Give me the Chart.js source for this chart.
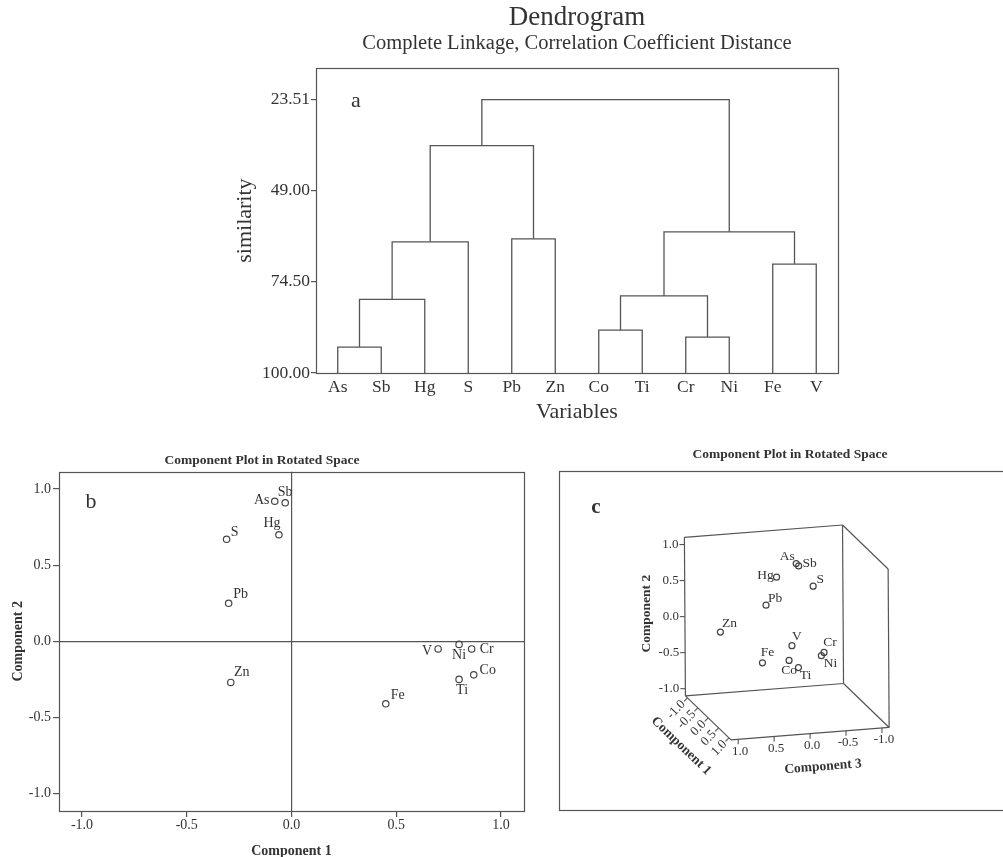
<!DOCTYPE html>
<html>
<head>
<meta charset="utf-8">
<title>Dendrogram and component plots</title>
<script src="https://cdn.jsdelivr.net/npm/chart.js@4.4.0/dist/chart.umd.min.js"></script>
<style>
    html, body { margin: 0; padding: 0; background: #fff; overflow: hidden; }
    canvas { position: absolute; }
    #dendroChart { left: 197px; top: 0; }
    #rotatedChart { left: 0; top: 445px; }
    #rotated3dChart { left: 555px; top: 440px; }
</style>
</head>
<body>
<canvas id="dendroChart" width="760" height="425"></canvas>
<canvas id="rotatedChart" width="540" height="415"></canvas>
<canvas id="rotated3dChart" width="470" height="417"></canvas>
<script>
// dendrogram (a): leaves, merges (ids 12+ are clusters in merge order), heights
var leafLabels = ['As', 'Sb', 'Hg', 'S', 'Pb', 'Zn', 'Co', 'Ti', 'Cr', 'Ni', 'Fe', 'V'];
var mergeLeft = [0, 12, 13, 4, 14, 6, 8, 17, 10, 19, 16];
var mergeRight = [1, 2, 3, 5, 15, 7, 9, 18, 11, 20, 21];
var mergeHeight = [92.75, 79.37, 63.29, 62.45, 36.34, 88.01, 89.96, 78.44, 69.51, 60.50, 23.51];
var simTicks = [23.51, 49.00, 74.50, 100.00];

// component plot (b), two components
var elements = ['As', 'Sb', 'Hg', 'S', 'Pb', 'Zn', 'V', 'Ni', 'Cr', 'Co', 'Ti', 'Fe'];
var comp1 = [-0.08, -0.03, -0.06, -0.31, -0.30, -0.29, 0.70, 0.80, 0.86, 0.87, 0.80, 0.45];
var comp2 = [0.92, 0.91, 0.70, 0.67, 0.25, -0.27, -0.05, -0.02, -0.05, -0.22, -0.25, -0.41];
var axisTicks = [-1.0, -0.5, 0.0, 0.5, 1.0];

// component plot (c), three components
var c3Comp1 = [-0.08, -0.03, -0.06, -0.31, -0.30, -0.29, 0.70, 0.80, 0.86, 0.87, 0.80, 0.45];
var c3Comp2 = [0.92, 0.90, 0.76, 0.52, 0.31, -0.01, 0.02, -0.12, -0.06, -0.13, -0.26, -0.26];
var c3Comp3 = [-0.16, -0.18, 0.12, -0.46, 0.20, 0.84, 0.13, -0.25, -0.27, 0.22, 0.07, 0.47];

var SERIF = '"Liberation Serif", "Times New Roman", serif';
var TXT = '#333';
var LINE = '#555';

// label offsets (px) around the points
var labelOffB = {
    As: [-13, -1], Sb: [0, -10], Hg: [-7, -11], S: [8, -7], Pb: [12, -9], Zn: [11, -10],
    V: [-11, 2], Ni: [0, 11], Cr: [15, 0], Co: [14, -5], Ti: [3, 11], Fe: [12, -8]
};
var labelOffC = {
    As: [-9, -7], Sb: [11, -2], Hg: [-11, -2], S: [7, -7], Pb: [9, -7], Zn: [9, -9],
    V: [5, -9], Ni: [9, 8], Cr: [6, -10], Co: [0, 10], Ti: [7, 8], Fe: [5, -10]
};

function serif(size, weight, lh) {
    return { family: SERIF, size: size, weight: weight || 'normal', lineHeight: lh || 1.2 };
}

//frame + panel letter
var framePlugin = {
    id: 'frame',
    afterDraw: function (chart, args, opts) {
        var a = chart.chartArea, ctx = chart.ctx;
        ctx.save();
        ctx.strokeStyle = LINE;
        ctx.lineWidth = 1.2;
        ctx.strokeRect(Math.round(a.left) + 0.5, Math.round(a.top) + 0.5,
            Math.round(a.right - a.left), Math.round(a.bottom - a.top));
        if (opts.letter) {
            ctx.fillStyle = TXT;
            ctx.font = opts.letterFont;
            ctx.textAlign = 'center';
            ctx.textBaseline = 'middle';
            ctx.fillText(opts.letter, a.left + opts.dx, a.top + opts.dy);
        }
        ctx.restore();
    }
};

// labels next to points
var pointLabelPlugin = {
    id: 'ptlabels',
    afterDatasetsDraw: function (chart, args, opts) {
        var meta = chart.getDatasetMeta(opts.datasetIndex);
        var ctx = chart.ctx;
        ctx.save();
        ctx.fillStyle = TXT;
        ctx.font = opts.font;
        ctx.textAlign = 'center';
        ctx.textBaseline = 'middle';
        meta.data.forEach(function (pt, i) {
            var name = opts.names[i];
            var off = opts.offsets[name];
            ctx.fillText(name, pt.x + off[0], pt.y + off[1]);
        });
        ctx.restore();
    }
};

//DENDROGRAM
function InitialLoad__forDendro() {
    var nodes = [];
    $each(leafLabels, function (i) { nodes.push({ x: i + 1, h: 100 }); });
    $each(mergeLeft, function (k) {
        var l = nodes[mergeLeft[k]], r = nodes[mergeRight[k]];
        nodes.push({ x: (l.x + r.x) / 2, h: mergeHeight[k] });
    });

    var dendroSets = [];
    $each(mergeLeft, function (k) {
        var l = nodes[mergeLeft[k]], r = nodes[mergeRight[k]], h = mergeHeight[k];
        dendroSets.push({
            data: [{ x: l.x, y: l.h }, { x: l.x, y: h }, { x: r.x, y: h }, { x: r.x, y: r.h }],
            showLine: true,
            borderColor: LINE,
            borderWidth: 1.3,
            pointRadius: 0,
            tension: 0,
            fill: false
        });
    });

    var ctx__dendro = document.getElementById('dendroChart');
    new Chart(ctx__dendro, {
        type: 'scatter',
        data: { datasets: dendroSets },
        plugins: [framePlugin],
        options: {
            responsive: false,
            animation: false,
            layout: { padding: { left: 0, right: 119, top: 0, bottom: 0 } },
            plugins: {
                legend: { display: false },
                tooltip: { enabled: false },
                //fullSize false -> centered over the plot box
                title: {
                    display: true, fullSize: false, text: 'Dendrogram', color: TXT,
                    font: serif(27, 'normal', 1.0), padding: { top: 4.5, bottom: 0 }
                },
                subtitle: {
                    display: true, fullSize: false, text: 'Complete Linkage, Correlation Coefficient Distance', color: TXT,
                    font: serif(20.5), padding: { top: 0.2, bottom: 11.9 }
                },
                frame: { letter: 'a', letterFont: '22px ' + SERIF, dx: 40, dy: 33 }
            },
            scales: {
                x: {
                    type: 'linear', min: 0.5, max: 12.5,
                    afterBuildTicks: function (s) {
                        s.ticks = leafLabels.map(function (l, i) { return { value: i + 1 }; });
                    },
                    ticks: {
                        callback: function (v) { return leafLabels[Math.round(v) - 1]; },
                        font: serif(17.5), color: TXT, padding: 3.5, maxRotation: 0, autoSkip: false
                    },
                    grid: { display: false, drawTicks: false },
                    border: { display: false },
                    title: {
                        display: true, text: 'Variables', color: TXT, font: serif(22),
                        padding: { top: 0, bottom: 0 }
                    },
                    afterFit: function (s) { s.height = 52; }
                },
                y: {
                    type: 'linear', min: 14.7, max: 100, reverse: true,
                    afterBuildTicks: function (s) {
                        s.ticks = simTicks.map(function (v) { return { value: v }; });
                    },
                    ticks: {
                        callback: function (v) { return v.toFixed(2); },
                        font: serif(17.5), color: TXT, padding: 1, autoSkip: false
                    },
                    grid: { drawOnChartArea: false, drawTicks: true, tickLength: 5, color: LINE, lineWidth: 1.2 },
                    border: { display: false },
                    title: {
                        display: true, text: 'similarity', color: TXT, font: serif(22),
                        padding: { top: 34.8, bottom: 0 }
                    },
                    afterFit: function (s) { s.width = 119; }
                }
            }
        }
    });
}

//ROTATED SPACE 2D
function InitialLoad__forRotated() {
    var pts = elements.map(function (e, i) { return { x: comp1[i], y: comp2[i] }; });
    var zeroLine = function (c) {
        return c.tick && c.tick.value === 0 ? LINE : 'rgba(0,0,0,0)';
    };
    var ctx__rot = document.getElementById('rotatedChart');
    new Chart(ctx__rot, {
        type: 'scatter',
        data: {
            datasets: [{
                data: pts,
                pointRadius: 3.2,
                pointBorderWidth: 1.2,
                pointBorderColor: '#444',
                pointBackgroundColor: 'rgba(0,0,0,0)'
            }]
        },
        plugins: [framePlugin, pointLabelPlugin],
        options: {
            responsive: false,
            animation: false,
            layout: { padding: { left: 0, right: 16, top: 0, bottom: 0 } },
            plugins: {
                legend: { display: false },
                tooltip: { enabled: false },
                title: {
                    display: true, text: 'Component Plot in Rotated Space', color: TXT,
                    font: serif(13.5, 'bold'), padding: { top: 7.6, bottom: 2.9 }
                },
                frame: { letter: 'b', letterFont: '22px ' + SERIF, dx: 32, dy: 31 },
                ptlabels: { datasetIndex: 0, names: elements, offsets: labelOffB, font: '14px ' + SERIF }
            },
            scales: {
                x: {
                    type: 'linear', min: -1.11, max: 1.11,
                    afterBuildTicks: function (s) {
                        s.ticks = axisTicks.map(function (v) { return { value: v }; });
                    },
                    ticks: {
                        callback: function (v) { return v.toFixed(1); },
                        font: serif(14), color: TXT, padding: 0, maxRotation: 0, autoSkip: false
                    },
                    grid: { color: zeroLine, tickColor: LINE, tickLength: 6, lineWidth: 1.2 },
                    border: { display: false },
                    title: {
                        display: true, text: 'Component 1', color: TXT, font: serif(14, 'bold'),
                        padding: { top: 0, bottom: 0 }
                    },
                    afterFit: function (s) { s.height = 49; }
                },
                y: {
                    type: 'linear', min: -1.114, max: 1.114,
                    afterBuildTicks: function (s) {
                        s.ticks = axisTicks.map(function (v) { return { value: v }; });
                    },
                    ticks: {
                        callback: function (v) { return v.toFixed(1); },
                        font: serif(14), color: TXT, padding: 2, autoSkip: false
                    },
                    grid: { color: zeroLine, tickColor: LINE, tickLength: 6, lineWidth: 1.2 },
                    border: { display: false },
                    title: {
                        display: true, text: 'Component 2', color: TXT, font: serif(14, 'bold'),
                        padding: { top: 9.9, bottom: 0 }
                    },
                    afterFit: function (s) { s.width = 59; }
                }
            }
        }
    });
}

//ROTATED SPACE 3D
var R = 1.1;
var e1 = [0.2884, -0.2789], e2 = [-0.0064, 1.0054], e3 = [-1.0, -0.0785];
function proj(a, b, c) {
    return { x: a * e1[0] + b * e2[0] + c * e3[0], y: a * e1[1] + b * e2[1] + c * e3[1] };
}

function InitialLoad__forRotated3d() {
    var edges = [
        [[-R, -R, R], [-R, R, R]], [[-R, R, R], [-R, R, -R]], [[-R, R, -R], [-R, -R, -R]], [[-R, -R, -R], [-R, -R, R]],
        [[-R, R, -R], [R, R, -R]], [[R, R, -R], [R, -R, -R]], [[-R, -R, -R], [R, -R, -R]],
        [[-R, -R, R], [R, -R, R]], [[R, -R, R], [R, -R, -R]]
    ];
    var sets = edges.map(function (ed) {
        return {
            data: [proj(ed[0][0], ed[0][1], ed[0][2]), proj(ed[1][0], ed[1][1], ed[1][2])],
            showLine: true, borderColor: LINE, borderWidth: 1.2, pointRadius: 0, tension: 0
        };
    });
    sets.push({
        data: elements.map(function (e, i) { return proj(c3Comp1[i], c3Comp2[i], c3Comp3[i]); }),
        pointRadius: 3,
        pointBorderWidth: 1.2,
        pointBorderColor: '#444',
        pointBackgroundColor: 'rgba(0,0,0,0)'
    });

    var axes3dPlugin = {
        id: 'axes3d',
        afterDraw: function (chart) {
            var ctx = chart.ctx, sx = chart.scales.x, sy = chart.scales.y;
            var px = function (a, b, c) {
                var p = proj(a, b, c);
                return { x: sx.getPixelForValue(p.x), y: sy.getPixelForValue(p.y) };
            };
            ctx.save();
            // outer frame + title + letter
            ctx.strokeStyle = LINE;
            ctx.lineWidth = 1.2;
            ctx.strokeRect(4.5, 31.5, 520, 339);
            ctx.fillStyle = TXT;
            ctx.textAlign = 'center';
            ctx.textBaseline = 'middle';
            ctx.font = 'bold 13.5px ' + SERIF;
            ctx.fillText('Component Plot in Rotated Space', 235, 15);
            ctx.font = 'bold 21px ' + SERIF;
            ctx.fillText('c', 41, 68);

            ctx.font = '13px ' + SERIF;
            ctx.lineWidth = 1.1;
            // component 2 (vertical)
            axisTicks.forEach(function (v) {
                var p = px(-R, v, R);
                ctx.beginPath(); ctx.moveTo(p.x, p.y); ctx.lineTo(p.x - 5, p.y); ctx.stroke();
                ctx.textAlign = 'right';
                ctx.fillText(v.toFixed(1), p.x - 6, p.y);
            });
            // component 1 (depth)
            var a0 = px(-1, -R, R), a1 = px(1, -R, R);
            var dx = a1.x - a0.x, dy = a1.y - a0.y, len = Math.sqrt(dx * dx + dy * dy);
            var ux = dx / len, uy = dy / len;
            var nx = -uy, ny = ux;
            axisTicks.forEach(function (v) {
                var p = px(v, -R, R);
                ctx.beginPath(); ctx.moveTo(p.x, p.y); ctx.lineTo(p.x + nx * 5, p.y + ny * 5); ctx.stroke();
                ctx.save();
                ctx.translate(p.x + nx * 6, p.y + ny * 6);
                ctx.rotate(Math.atan2(-ny, -nx));
                ctx.textAlign = 'right';
                ctx.fillText(v.toFixed(1), 0, 0);
                ctx.restore();
            });
            // component 3 (horizontal floor)
            axisTicks.forEach(function (v) {
                var p = px(R, -R, v);
                ctx.beginPath(); ctx.moveTo(p.x, p.y); ctx.lineTo(p.x, p.y + 5); ctx.stroke();
                ctx.textAlign = 'center';
                ctx.fillText(v.toFixed(1), p.x + 2, p.y + 12);
            });

            // axis titles
            ctx.font = 'bold 13.5px ' + SERIF;
            ctx.textAlign = 'center';
            var t2 = px(-R, 0, R);
            ctx.save(); ctx.translate(t2.x - 38, t2.y - 3); ctx.rotate(-Math.PI / 2);
            ctx.fillText('Component 2', 0, 0); ctx.restore();
            var t1 = px(0, -R, R);
            ctx.save(); ctx.translate(t1.x + nx * 39, t1.y + ny * 39); ctx.rotate(Math.atan2(uy, ux));
            ctx.fillText('Component 1', 0, 0); ctx.restore();
            var t3 = px(R, -R, 0), t3b = px(R, -R, -1);
            ctx.save(); ctx.translate(t3.x + 13, t3.y + 33); ctx.rotate(Math.atan2(t3b.y - t3.y, t3b.x - t3.x));
            ctx.fillText('Component 3', 0, 0); ctx.restore();

            // point labels
            var meta = chart.getDatasetMeta(chart.data.datasets.length - 1);
            ctx.font = '13.5px ' + SERIF;
            meta.data.forEach(function (pt, i) {
                var off = labelOffC[elements[i]];
                ctx.fillText(elements[i], pt.x + off[0], pt.y + off[1]);
            });
            ctx.restore();
        }
    };

    var unitPx = 73.5, ox = 231.7, oy = 192;
    var ctx__r3 = document.getElementById('rotated3dChart');
    new Chart(ctx__r3, {
        type: 'scatter',
        data: { datasets: sets },
        plugins: [axes3dPlugin],
        options: {
            responsive: false,
            animation: false,
            layout: { padding: 0 },
            plugins: { legend: { display: false }, tooltip: { enabled: false } },
            scales: {
                x: { type: 'linear', display: false, min: -ox / unitPx, max: (470 - ox) / unitPx },
                y: { type: 'linear', display: false, min: -(417 - oy) / unitPx, max: oy / unitPx }
            }
        }
    });
}

function $each(arr, fn) {
    for (var i = 0; i < arr.length; i++) fn(i, arr[i]);
}

InitialLoad__forDendro();
InitialLoad__forRotated();
InitialLoad__forRotated3d();
</script>
</body>
</html>
